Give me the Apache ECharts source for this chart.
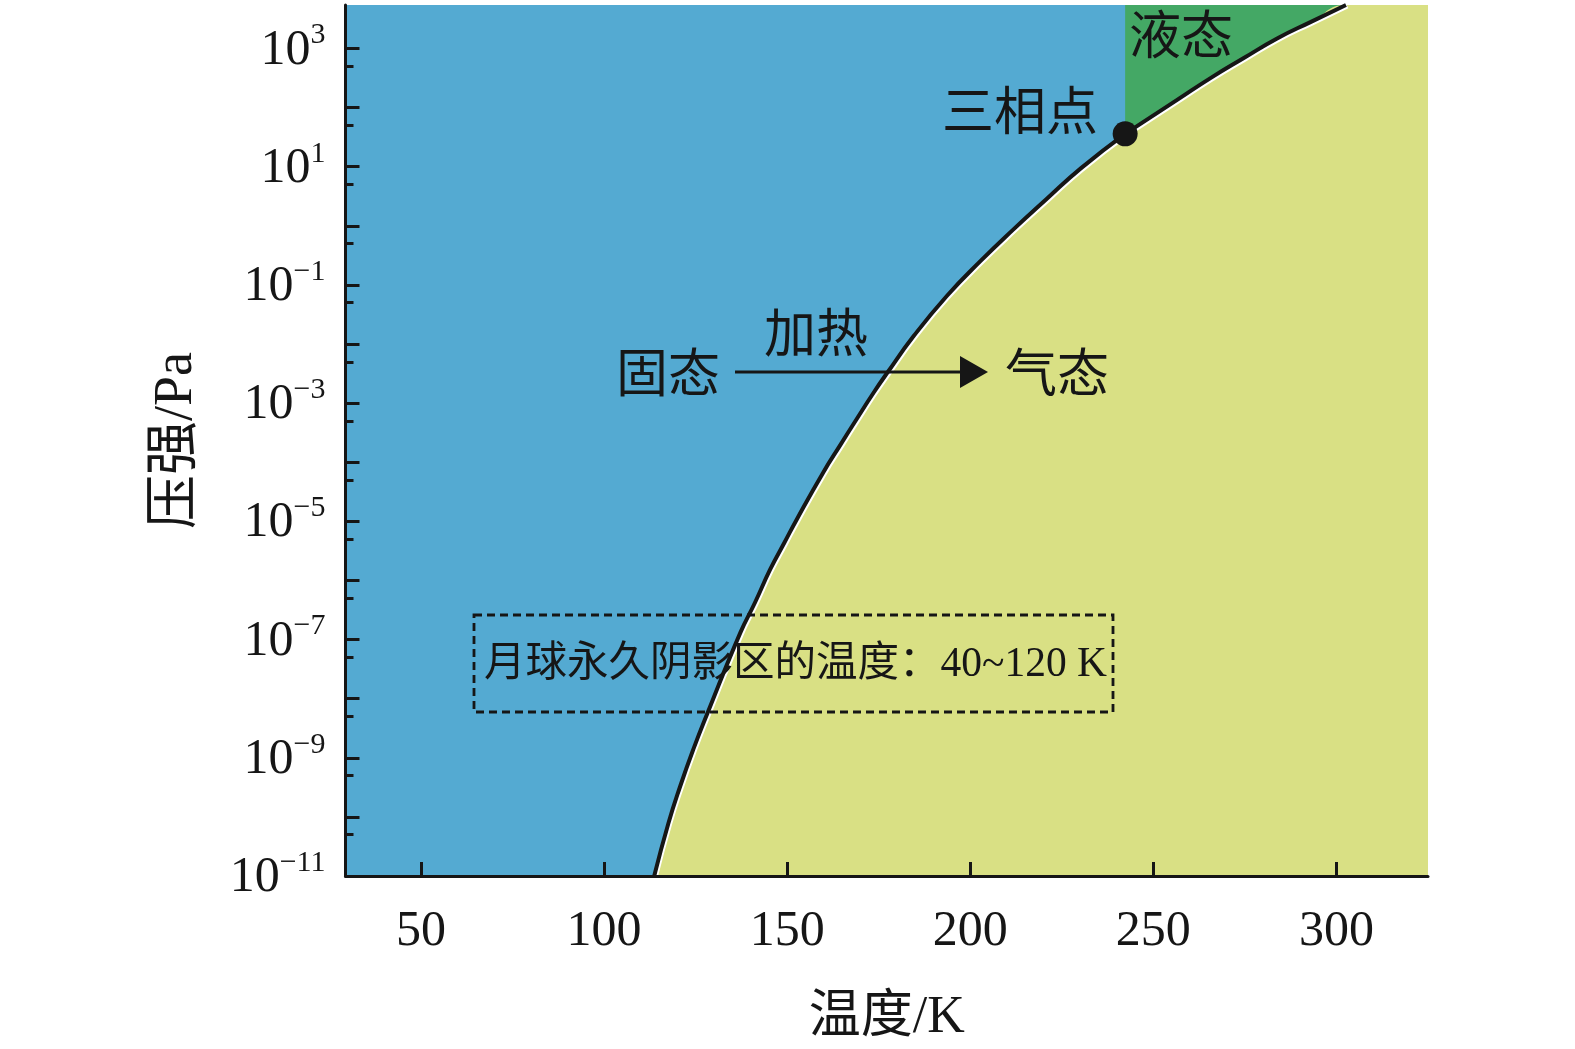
<!DOCTYPE html>
<html>
<head>
<meta charset="utf-8">
<script src="https://cdn.jsdelivr.net/npm/echarts@6/dist/echarts.min.js"></script>
<style>
html,body{margin:0;padding:0;background:#ffffff;}
#chart{width:1575px;height:1049px;}
</style>
</head>
<body>
<div id="chart"></div>
<script>
// ---- data ----
// sublimation curve (solid / gas), ends at the triple point
const sublimT = [113.7, 117.6, 120.8, 124.4, 128.1, 137.2, 141.2, 145.4, 149.2, 152.7, 159.9, 164.5, 169.0, 173.6, 177.4, 184.5, 193.6, 202.7, 211.8, 221.0, 230.1, 242.3];
const sublimP = [1e-11, 7.9e-11, 3.3e-10, 1.4e-9, 5.4e-9, 1.3e-7, 4.2e-7, 1.55e-6, 4.3e-6, 1.1e-5, 6.8e-5, 1.95e-4, 5.4e-4, 1.5e-3, 3.3e-3, 1.35e-2, 6.5e-2, 0.25, 0.87, 2.9, 9.3, 36];
// vaporization curve (liquid / gas), starts at the triple point
const vaporT = [242.3, 256.5, 265.6, 274.7, 283.8, 292.9, 302.6];
const vaporP = [36, 135, 316, 690, 1480, 2800, 5450];
// triple point
const tripleT = 242.3;
const tripleP = 36;
// axis ranges
const tRange = [29.4, 325];
const pRange = [1e-11, 5450];
// ticks / labels
const xTickValues = [50, 100, 150, 200, 250, 300];
const yMajorTickP = [1e-11, 1e-10, 1e-9, 1e-8, 1e-7, 1e-6, 1e-5, 1e-4, 1e-3, 1e-2, 1e-1, 1, 10, 100, 1000];
const yMinorTickP = [5e-11, 5e-10, 5e-9, 5e-8, 5e-7, 5e-6, 5e-5, 5e-4, 5e-3, 5e-2, 0.5, 5, 50, 500];
const yLabelP = [1e-11, 1e-9, 1e-7, 1e-5, 1e-3, 1e-1, 10, 1000];
// texts
const xName = '温度/K';
const yName = '压强/Pa';
const txtTriple = '三相点';
const txtLiquid = '液态';
const txtSolid = '固态';
const txtGas = '气态';
const txtHeat = '加热';
const txtBox = '月球永久阴影区的温度：40~120 K';

// ---- build ----
const lg = v => Math.log10(v);
const sublimData = sublimT.map((t, i) => [t, lg(sublimP[i])]);
const vaporData = vaporT.map((t, i) => [t, lg(vaporP[i])]);
const yMin = lg(pRange[0]);
const yMax = lg(pRange[1]);
const gasEdge = sublimData.concat(vaporData.slice(1), [[tRange[1], yMax]]);

const BLUE = '#54aad2';
const YELLOW = '#d9e084';
const GREEN = '#44a865';
const INK = '#161616';
const SERIF = '"Liberation Serif","Times New Roman","Noto Sans CJK SC",serif';
const CJK = '"Noto Sans CJK SC","Liberation Serif",sans-serif';
const SMOOTH = 0.5;

function supExp(n) {
  const r = Math.round(n);
  return (r < 0 ? '\u2212' + Math.abs(r) : String(r));
}

const boundaryStyle = {color: INK, width: 4, shadowColor: '#ffffff', shadowBlur: 0, shadowOffsetX: 1.5, shadowOffsetY: 1.5};

const chart = echarts.init(document.getElementById('chart'), null, {renderer: 'canvas'});

const option = {
  animation: false,
  backgroundColor: '#ffffff',
  grid: {
    left: 345.5, right: 147, top: 5, bottom: 172.3,
    show: true, backgroundColor: BLUE, borderWidth: 0
  },
  xAxis: {
    type: 'value',
    min: tRange[0], max: tRange[1],
    z: 10,
    axisLine: {show: true, onZero: false, lineStyle: {color: INK, width: 3}},
    axisTick: {show: true, inside: true, length: 14, customValues: xTickValues, lineStyle: {color: INK, width: 3}},
    axisLabel: {customValues: xTickValues, fontFamily: SERIF, fontSize: 50, color: INK, margin: 28, lineHeight: 56},
    splitLine: {show: false},
    name: xName,
    nameLocation: 'middle',
    nameGap: 116,
    nameTextStyle: {fontFamily: SERIF, fontSize: 52, color: INK}
  },
  yAxis: [
    {
      type: 'value',
      min: yMin, max: yMax,
      z: 10,
      axisLine: {show: true, onZero: false, lineStyle: {color: INK, width: 3}},
      axisTick: {show: true, inside: true, length: 14, customValues: yMajorTickP.map(lg), lineStyle: {color: INK, width: 3}},
      axisLabel: {
        customValues: yLabelP.map(lg),
        margin: 20,
        formatter: v => '{b|10}{s|' + supExp(v) + '}',
        rich: {
          b: {fontFamily: SERIF, fontSize: 50, color: INK, lineHeight: 56, padding: [4, 0, 0, 0]},
          s: {fontFamily: SERIF, fontSize: 30, color: INK, lineHeight: 44, verticalAlign: 'top'}
        }
      },
      splitLine: {show: false},
      name: yName,
      nameLocation: 'middle',
      nameGap: 142,
      nameRotate: 90,
      nameTextStyle: {fontFamily: SERIF, fontSize: 54, color: INK}
    },
    {
      type: 'value',
      min: yMin, max: yMax,
      position: 'left',
      z: 10,
      axisLine: {show: false},
      axisTick: {show: true, inside: true, length: 8, customValues: yMinorTickP.map(lg), lineStyle: {color: INK, width: 3}},
      axisLabel: {show: false},
      splitLine: {show: false}
    }
  ],
  series: [
    {
      name: 'liquid',
      type: 'line',
      z: 1,
      symbol: 'none',
      silent: true,
      data: [[tripleT, yMax], [tRange[1], yMax]],
      lineStyle: {width: 0},
      areaStyle: {color: GREEN, opacity: 1, origin: 'start'}
    },
    {
      name: 'gas',
      type: 'line',
      z: 2,
      symbol: 'none',
      silent: true,
      smooth: SMOOTH,
      data: gasEdge,
      lineStyle: {width: 0},
      areaStyle: {color: YELLOW, opacity: 1, origin: 'start'}
    },
    {
      name: 'sublimation',
      type: 'line',
      z: 3,
      symbol: 'none',
      silent: true,
      smooth: SMOOTH,
      data: sublimData,
      lineStyle: boundaryStyle
    },
    {
      name: 'vaporization',
      type: 'line',
      z: 3,
      symbol: 'none',
      silent: true,
      smooth: SMOOTH,
      data: vaporData,
      lineStyle: boundaryStyle
    },
    {
      name: 'triple',
      type: 'scatter',
      z: 5,
      symbol: 'circle',
      symbolSize: 25,
      silent: true,
      data: [[tripleT, lg(tripleP)]],
      itemStyle: {color: INK, opacity: 1}
    }
  ],
  graphic: [
    {type: 'text', z: 100, x: 1020, y: 110, style: {text: txtTriple, font: '52px ' + CJK, fill: INK, align: 'center', verticalAlign: 'middle'}},
    {type: 'text', z: 100, x: 1181, y: 34, style: {text: txtLiquid, font: '52px ' + CJK, fill: INK, align: 'center', verticalAlign: 'middle'}},
    {type: 'text', z: 100, x: 668, y: 372, style: {text: txtSolid, font: '52px ' + CJK, fill: INK, align: 'center', verticalAlign: 'middle'}},
    {type: 'text', z: 100, x: 816, y: 332, style: {text: txtHeat, font: '52px ' + CJK, fill: INK, align: 'center', verticalAlign: 'middle'}},
    {type: 'text', z: 100, x: 1057, y: 372, style: {text: txtGas, font: '52px ' + CJK, fill: INK, align: 'center', verticalAlign: 'middle'}},
    {type: 'line', z: 100, shape: {x1: 735, y1: 372, x2: 964, y2: 372}, style: {stroke: INK, lineWidth: 3}},
    {type: 'polygon', z: 100, shape: {points: [[960, 356], [988, 372], [960, 388]]}, style: {fill: INK}},
    {type: 'rect', z: 100, shape: {x: 474, y: 615, width: 639, height: 97}, style: {fill: null, stroke: INK, lineWidth: 2.8, lineDash: [8, 5]}},
    {type: 'text', z: 100, x: 484, y: 665, style: {text: txtBox, font: '41.5px ' + SERIF, fill: INK, align: 'left', verticalAlign: 'middle'}}
  ]
};

chart.setOption(option);
</script>
</body>
</html>
